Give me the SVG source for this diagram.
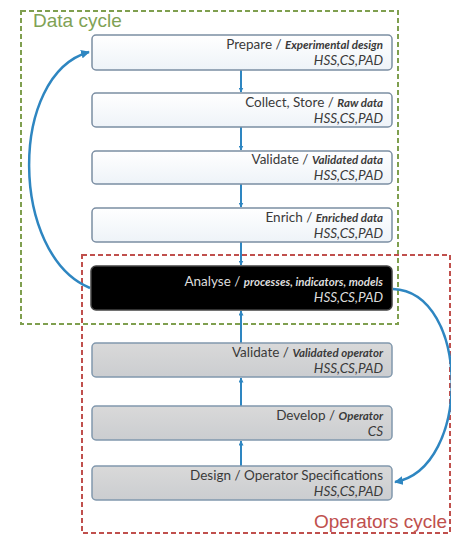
<svg xmlns="http://www.w3.org/2000/svg" width="451" height="536" viewBox="0 0 451 536">
<defs>
<linearGradient id="gw" x1="0" y1="0" x2="0" y2="1"><stop offset="0" stop-color="#ffffff"/><stop offset="1" stop-color="#eef3f8"/></linearGradient>
<linearGradient id="gg" x1="0" y1="0" x2="0" y2="1"><stop offset="0" stop-color="#d9d9d9"/><stop offset="1" stop-color="#cbcdd0"/></linearGradient>
<marker id="ah" viewBox="0 0 10 10" refX="9" refY="5" markerWidth="2.5" markerHeight="2.5" orient="auto"><path d="M0,0 L10,5 L0,10 z" fill="#2e86c1"/></marker>
<marker id="ab" viewBox="0 0 10 10" refX="9" refY="5" markerWidth="3.5" markerHeight="3.5" orient="auto"><path d="M0,0 L10,5 L0,10 z" fill="#2e86c1"/></marker>
</defs>
<style>
.box{fill:url(#gw);stroke:#7b8ea3;stroke-width:1.5}
.gbox{fill:url(#gg);stroke:#8198ad;stroke-width:1.5}
.dbox{fill:#000;stroke:#444;stroke-width:1.5}
.t{font-family:Lato,"Open Sans","Liberation Sans",sans-serif;font-size:13.5px;fill:#3a3a3a;text-anchor:end}
.s{font-size:11.5px;font-weight:bold;font-style:italic}
.h{font-family:Lato,"Open Sans","Liberation Sans",sans-serif;font-size:13.5px;font-style:italic;fill:#3a3a3a;text-anchor:end}
.w{fill:#dcdcdc}
.conn{stroke:#2e86c1;stroke-width:2;fill:none}
.curve{stroke:#2e86c1;stroke-width:2.5;fill:none}
</style>
<rect width="451" height="536" fill="#fff"/>
<g id="data-cycle">
<rect x="21" y="11" width="377" height="313" fill="none" stroke="#7f9f4f" stroke-width="2" stroke-dasharray="5,3"/>
<text x="33" y="27" font-family="'Liberation Sans',Arial,sans-serif" font-size="19" fill="#7fa255">Data cycle</text>
</g>
<g id="operators-cycle">
<rect x="82" y="255" width="368" height="278" fill="none" stroke="#c0504d" stroke-width="2" stroke-dasharray="5,3"/>
<text x="447" y="528" font-family="'Liberation Sans',Arial,sans-serif" font-size="19" fill="#c0504d" text-anchor="end">Operators cycle</text>
</g>
<g id="connectors">
<line class="conn" x1="241" y1="70" x2="241" y2="92" marker-end="url(#ah)"/>
<line class="conn" x1="241" y1="127" x2="241" y2="150" marker-end="url(#ah)"/>
<line class="conn" x1="241" y1="184" x2="241" y2="207" marker-end="url(#ah)"/>
<line class="conn" x1="241" y1="242" x2="241" y2="265" marker-end="url(#ah)"/>
<line class="conn" x1="241" y1="343" x2="241" y2="311" marker-end="url(#ah)"/>
<line class="conn" x1="241" y1="406" x2="241" y2="378" marker-end="url(#ah)"/>
<line class="conn" x1="241" y1="466" x2="241" y2="441" marker-end="url(#ah)"/>
<path class="curve" d="M 90 288 C 10 255, 8 75, 89 52" marker-end="url(#ab)"/>
<path class="curve" d="M 393 289 C 470 292, 472 468, 395 482" marker-end="url(#ab)"/>
</g>
<g id="prepare">
<rect class="box" x="92" y="35" width="300" height="35" rx="4"/>
<text class="t" x="383" y="49">Prepare / <tspan class="s">Experimental design</tspan></text>
<text class="h" x="383" y="65">HSS,CS,PAD</text>
</g>
<g id="collect">
<rect class="box" x="92" y="93" width="300" height="34" rx="4"/>
<text class="t" x="383" y="107">Collect, Store / <tspan class="s">Raw data</tspan></text>
<text class="h" x="383" y="123">HSS,CS,PAD</text>
</g>
<g id="validate-data">
<rect class="box" x="92" y="151" width="300" height="33" rx="4"/>
<text class="t" x="383" y="164">Validate / <tspan class="s">Validated data</tspan></text>
<text class="h" x="383" y="180">HSS,CS,PAD</text>
</g>
<g id="enrich">
<rect class="box" x="92" y="208" width="300" height="34" rx="4"/>
<text class="t" x="383" y="222">Enrich / <tspan class="s">Enriched data</tspan></text>
<text class="h" x="383" y="238">HSS,CS,PAD</text>
</g>
<g id="analyse">
<rect class="dbox" x="91" y="266" width="301" height="44" rx="5"/>
<text class="t w" x="383" y="286">Analyse / <tspan class="s">processes, indicators, models</tspan></text>
<text class="h w" x="383" y="302">HSS,CS,PAD</text>
</g>
<g id="validate-operator">
<rect class="gbox" x="92" y="343" width="300" height="34" rx="4"/>
<text class="t" x="383" y="357">Validate / <tspan class="s">Validated operator</tspan></text>
<text class="h" x="383" y="373">HSS,CS,PAD</text>
</g>
<g id="develop">
<rect class="gbox" x="92" y="406" width="300" height="34" rx="4"/>
<text class="t" x="383" y="420">Develop / <tspan class="s">Operator</tspan></text>
<text class="h" x="383" y="436">CS</text>
</g>
<g id="design">
<rect class="gbox" x="92" y="466" width="300" height="34" rx="4"/>
<text class="t" x="383" y="480">Design / Operator Specifications</text>
<text class="h" x="383" y="496">HSS,CS,PAD</text>
</g>
</svg>
